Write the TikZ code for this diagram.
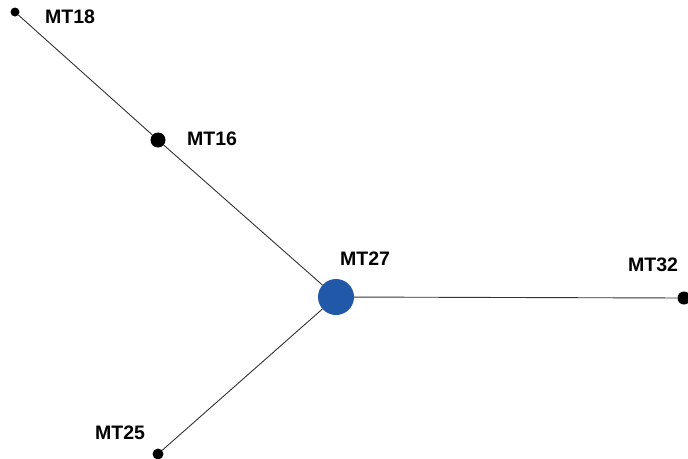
\documentclass[tikz,border=0pt]{standalone}
\usepackage{fontspec}
\setmainfont{Liberation Sans}
\begin{document}
\begin{tikzpicture}[x=1pt,y=-1pt,
  edge/.style={draw=black!80, line width=0.9pt},
  leaf/.style={circle, fill=black, inner sep=0pt},
  hub/.style={circle, fill=hubblue, inner sep=0pt, minimum size=36pt},
  lab/.style={font=\fontsize{19.5}{22}\selectfont\bfseries, inner sep=0pt}]
\definecolor{hubblue}{HTML}{2158A8}
\useasboundingbox (0,0) rectangle (688,458);
\clip (0,0) rectangle (688,458);
% genotype nodes
\node[hub] (mt27) at (336,297) {};
\node[leaf, minimum size=15pt] (mt16) at (158,140) {};
\node[leaf, minimum size=9pt] (mt18) at (15,12) {};
\node[leaf, minimum size=13pt] (mt32) at (684,298) {};
\node[leaf, minimum size=11pt] (mt25) at (158,454) {};
% links between genotypes
\draw[edge] (mt18) -- (mt16);
\draw[edge] (mt16) -- (mt27);
\draw[edge] (mt27) -- (mt32);
\draw[edge] (mt27) -- (mt25);
% labels
\node[lab, anchor=west] (l18) at (45,17) {MT18};
\node[lab, anchor=west] (l16) at (187,139) {MT16};
\node[lab, anchor=west] (l27) at (340,259) {MT27};
\node[lab, anchor=west] (l32) at (628,265) {MT32};
\node[lab, anchor=west] (l25) at (95,433) {MT25};
\end{tikzpicture}
\end{document}
